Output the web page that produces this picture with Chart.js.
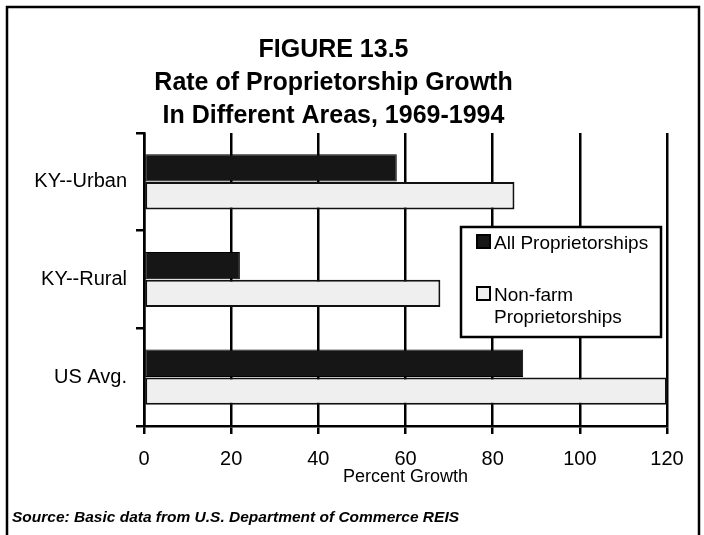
<!DOCTYPE html>
<html><head><meta charset="utf-8">
<script src="https://cdn.jsdelivr.net/npm/chart.js@4.4.1/dist/chart.umd.min.js"></script>
<style>html,body{margin:0;padding:0;background:#fff;}#wrap{width:704px;height:535px;position:relative}</style>
</head><body><div id="wrap"><canvas id="c" width="704" height="535"></canvas></div>
<script>
const categories = ['KY--Urban', 'KY--Rural', 'US Avg.'];
const seriesNames = ['All Proprietorships', 'Non-farm Proprietorships'];
const allProp = [58, 22, 87];
const nonFarm = [85, 68, 120];
const xTicks = [0, 20, 40, 60, 80, 100, 120];
const titleLines = ['FIGURE 13.5', 'Rate of Proprietorship Growth', 'In Different Areas, 1969-1994'];
const xTitle = 'Percent Growth';
const sourceNote = 'Source: Basic data from U.S. Department of Commerce REIS';

const FONT = '"Liberation Sans", Arial, Helvetica, sans-serif';
const seriesFill = ['#161616', '#efefef'];

function wrapText(ctx, text, maxW) {
  const words = text.split(' ');
  const lines = [];
  let cur = '';
  for (const w of words) {
    const t = cur ? cur + ' ' + w : w;
    if (ctx.measureText(t).width > maxW && cur) { lines.push(cur); cur = w; }
    else cur = t;
  }
  if (cur) lines.push(cur);
  return lines;
}

const boxLegend = {
  id: 'boxLegend',
  afterDatasetsDraw(chart) {
    const ctx = chart.ctx, ca = chart.chartArea;
    const left = ca.right - 206, top = ca.top + 94, w = 200, h = 110;
    ctx.save();
    ctx.fillStyle = '#fff';
    ctx.fillRect(left, top, w, h);
    ctx.lineWidth = 2.5;
    ctx.strokeStyle = '#000';
    ctx.strokeRect(left, top, w, h);
    ctx.font = '19px ' + FONT;
    ctx.textBaseline = 'alphabetic';
    ctx.textAlign = 'left';
    let y = top + 22;
    chart.data.datasets.forEach((ds, i) => {
      const sx = left + 16;
      ctx.fillStyle = ds.backgroundColor;
      ctx.fillRect(sx, y - 14, 13, 13);
      ctx.lineWidth = 2;
      ctx.strokeStyle = '#000';
      ctx.strokeRect(sx, y - 14, 13, 13);
      ctx.fillStyle = '#000';
      const lines = wrapText(ctx, ds.label, w - 38);
      lines.forEach((ln, k) => ctx.fillText(ln, left + 33, y + k * 22));
      y += 52;
    });
    ctx.restore();
  }
};

const frameAndSource = {
  id: 'frameAndSource',
  afterDraw(chart) {
    const ctx = chart.ctx;
    ctx.save();
    ctx.strokeStyle = '#000';
    ctx.lineWidth = 2.5;
    ctx.beginPath();
    ctx.moveTo(7, 540); ctx.lineTo(7, 7); ctx.lineTo(699, 7); ctx.lineTo(699, 540);
    ctx.stroke();
    ctx.fillStyle = '#000';
    ctx.font = 'italic bold 15.5px ' + FONT;
    ctx.textAlign = 'left';
    ctx.textBaseline = 'alphabetic';
    ctx.fillText(sourceNote, 12, 522);
    ctx.restore();
  }
};

new Chart(document.getElementById('c'), {
  type: 'bar',
  data: {
    labels: categories,
    datasets: [
      { label: seriesNames[0], data: allProp, backgroundColor: seriesFill[0], borderColor: '#000', borderWidth: 1, borderSkipped: false },
      { label: seriesNames[1], data: nonFarm, backgroundColor: seriesFill[1], borderColor: '#111', borderWidth: 2, borderSkipped: false }
    ]
  },
  options: {
    indexAxis: 'y',
    responsive: false,
    animation: false,
    devicePixelRatio: 1,
    categoryPercentage: 0.57,
    barPercentage: 0.98,
    layout: { padding: { top: 0, left: 0, right: 37, bottom: 0 } },
    plugins: {
      legend: { display: false },
      tooltip: { enabled: false },
      title: {
        display: true,
        text: titleLines,
        color: '#000',
        font: { family: FONT, size: 25, weight: 'bold', lineHeight: 1.32 },
        padding: { top: 34, bottom: 0 }
      }
    },
    scales: {
      x: {
        type: 'linear',
        min: xTicks[0],
        max: xTicks[xTicks.length - 1],
        afterBuildTicks(s) { s.ticks = xTicks.map(v => ({ value: v })); },
        afterFit(s) { s.height = 109; },
        ticks: { color: '#000', font: { family: FONT, size: 20 }, padding: 13, maxRotation: 0 },
        grid: { color: '#000', lineWidth: 2.5, tickLength: 8, drawOnChartArea: true },
        border: { display: true, color: '#000', width: 2.5 },
        title: { display: true, text: xTitle, color: '#000', font: { family: FONT, size: 18 }, padding: { top: 0, bottom: 47 } }
      },
      y: {
        type: 'category',
        offset: true,
        afterFit(s) { s.width = 144; },
        ticks: { color: '#000', font: { family: FONT, size: 20 }, padding: 9 },
        grid: { color: '#000', lineWidth: 2.5, tickLength: 8, drawOnChartArea: false, offset: true },
        border: { display: true, color: '#000', width: 2.5 }
      }
    }
  },
  plugins: [boxLegend, frameAndSource]
});
</script>
</body></html>
